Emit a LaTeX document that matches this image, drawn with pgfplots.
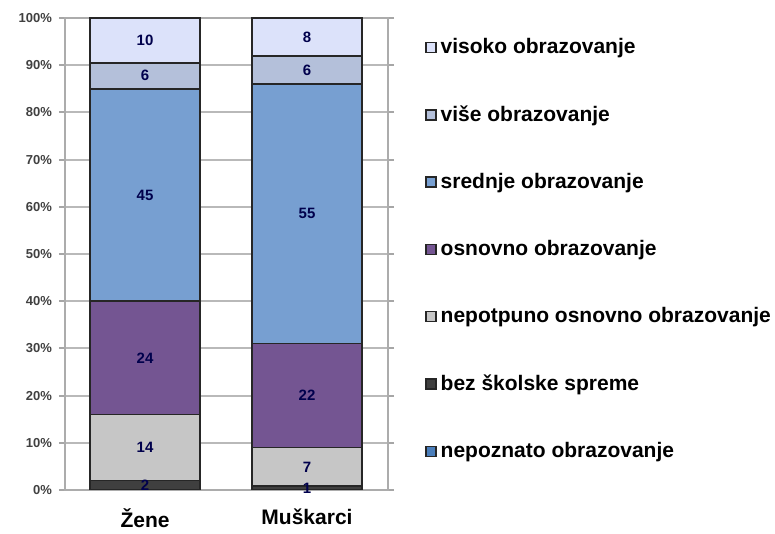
\documentclass[border=0pt]{standalone}
\usepackage{fontspec}
\setmainfont{Liberation Sans}
\usepackage{pgfplots}
\usepackage{pgfplotstable}
\pgfplotsset{compat=1.18}

\definecolor{cVisoko}{HTML}{DCE2FA}
\definecolor{cVise}{HTML}{B4C0DA}
\definecolor{cSrednje}{HTML}{779FD1}
\definecolor{cOsnovno}{HTML}{745592}
\definecolor{cNepotpuno}{HTML}{C6C6C6}
\definecolor{cBez}{HTML}{3F3F3F}
\definecolor{cNepoznato}{HTML}{4A7EBB}

% x = category (0 Zene, 1 Muskarci), h = share in %, lab = printed value
\pgfplotstableread{
x h lab
0 0 0
1 0 0
}\tnepoznato
\pgfplotstableread{
x h lab
0 2 2
1 0.8 1
}\tbez
\pgfplotstableread{
x h lab
0 14 14
1 8.2 7
}\tnepotpuno
\pgfplotstableread{
x h lab
0 24 24
1 22 22
}\tosnovno
\pgfplotstableread{
x h lab
0 45 45
1 55 55
}\tsrednje
\pgfplotstableread{
x h lab
0 5.5 6
1 6 6
}\tvise
\pgfplotstableread{
x h lab
0 9.5 10
1 8 8
}\tvisoko

\pgfplotsset{
  seg/.style={fill=#1, draw=black!85, line width=0.8pt},
  seglab/.style={
    point meta=explicit symbolic,
    nodes near coords,
    nodes near coords style={anchor=center,
      font=\fontsize{7.5}{8}\selectfont\bfseries, text=black!70!blue},
  },
}

\begin{document}
\begin{tikzpicture}
\path[use as bounding box] (-32.5pt,-22pt) rectangle (355pt,245pt);
\begin{axis}[
  at={(0,0)}, anchor=south west,
  scale only axis, width=161.5pt, height=236pt,
  ybar stacked, bar width=55pt,
  xmin=-0.494, xmax=1.5, ymin=0, ymax=100,
  xtick={0,1}, xticklabels={Žene, Muškarci},
  x tick label style={font=\fontsize{10.5}{12}\selectfont\bfseries, yshift=-3pt},
  xtick style={draw=none},
  ytick={0,10,...,100},
  yticklabel={\pgfmathprintnumber{\tick}\%},
  y tick label style={font=\fontsize{6.5}{7}\selectfont\bfseries, text=black!75},
  /pgf/number format/assume math mode=true,
  tick align=outside, major tick length=3pt,
  ytick style={gray!70, line width=1pt},
  ymajorgrids, grid style={gray!55, line width=1pt},
  axis line style={gray!65, line width=1pt},
  legend style={draw=none, fill=none, at={(1.095,0.975)}, anchor=north west,
    font=\fontsize{10.5}{12}\selectfont\bfseries, row sep=20.5pt,
    nodes={inner xsep=2pt}},
  legend cell align=left,
  reverse legend,
  legend image code/.code={\draw[#1, draw=black!85, line width=0.8pt] (0pt,-2.5pt) rectangle (5pt,2.5pt);},
]
\addplot[seg=cNepoznato] table[x=x, y=h] {\tnepoznato};
\addplot[seg=cBez, seglab] table[x=x, y=h, meta=lab] {\tbez};
\addplot[seg=cNepotpuno, seglab] table[x=x, y=h, meta=lab] {\tnepotpuno};
\addplot[seg=cOsnovno, seglab] table[x=x, y=h, meta=lab] {\tosnovno};
\addplot[seg=cSrednje, seglab] table[x=x, y=h, meta=lab] {\tsrednje};
\addplot[seg=cVise, seglab] table[x=x, y=h, meta=lab] {\tvise};
\addplot[seg=cVisoko, seglab] table[x=x, y=h, meta=lab] {\tvisoko};
\legend{nepoznato obrazovanje, bez školske spreme, nepotpuno osnovno obrazovanje,
  osnovno obrazovanje, srednje obrazovanje, više obrazovanje, visoko obrazovanje}
\end{axis}
\end{tikzpicture}
\end{document}
